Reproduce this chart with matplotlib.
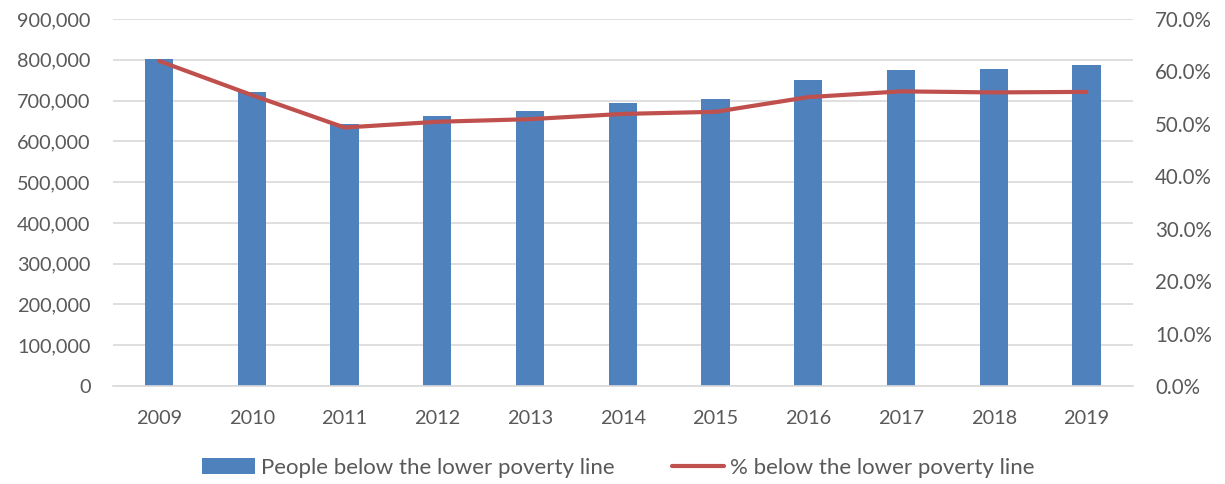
import numpy as np
import matplotlib
matplotlib.use("Agg")
import matplotlib.pyplot as plt
from matplotlib.ticker import FuncFormatter

# datos
years = ["2009", "2010", "2011", "2012", "2013", "2014", "2015", "2016", "2017", "2018", "2019"]
people = [801000, 720000, 643000, 663000, 675000, 695000, 705000, 751000, 775000, 778000, 788000]
pct = [62.0, 55.5, 49.3, 50.4, 50.9, 51.9, 52.3, 55.1, 56.2, 56.0, 56.1]

plt.rcParams["font.family"] = ["Lato", "DejaVu Sans"]
txt = "#595959"

fig = plt.figure(figsize=(12.25, 4.84), dpi=100)
ax = fig.add_axes([0.092, 0.2025, 0.8327, 0.7582])
x = np.arange(len(years))

b = ax.bar(x, people, width=0.305, color="#4F81BD", zorder=2,
           label="People below the lower poverty line")
ax.set_ylim(0, 900000)
ax.set_yticks(np.arange(0, 900001, 100000))
ax.yaxis.set_major_formatter(FuncFormatter(lambda v, p: f"{int(v):,}"))
ax.set_xlim(-0.5, len(years) - 0.5)
ax.set_xticks(x)
ax.set_xticklabels(years)
ax.grid(axis="y", color="#D9D9D9", linewidth=1.2, zorder=0)
for s in ["top", "right", "left"]:
    ax.spines[s].set_visible(False)
ax.spines["bottom"].set_color("#D9D9D9")
ax.spines["bottom"].set_linewidth(1.2)
ax.tick_params(length=0, labelsize=14.3, colors=txt)
ax.tick_params(axis="x", pad=17)
ax.tick_params(axis="y", pad=16)

ax2 = ax.twinx()
l, = ax2.plot(x, pct, color="#C0504D", linewidth=3, solid_capstyle="round", zorder=3,
              label="% below the lower poverty line")
ax2.set_ylim(0, 70)
ax2.set_yticks(np.arange(0, 71, 10))
ax2.yaxis.set_major_formatter(FuncFormatter(lambda v, p: f"{v:.1f}%"))
for s in ax2.spines.values():
    s.set_visible(False)
ax2.tick_params(length=0, labelsize=14.8, colors=txt, pad=16)

leg = fig.legend([b, l], [b.get_label(), l.get_label()], loc="center",
                 bbox_to_anchor=(0.505, 0.033), ncol=2, frameon=False, fontsize=16,
                 handlelength=2.35, handletextpad=0.27, columnspacing=2.6)
for t in leg.get_texts():
    t.set_color(txt)

fig.savefig("out.png", dpi=100)
